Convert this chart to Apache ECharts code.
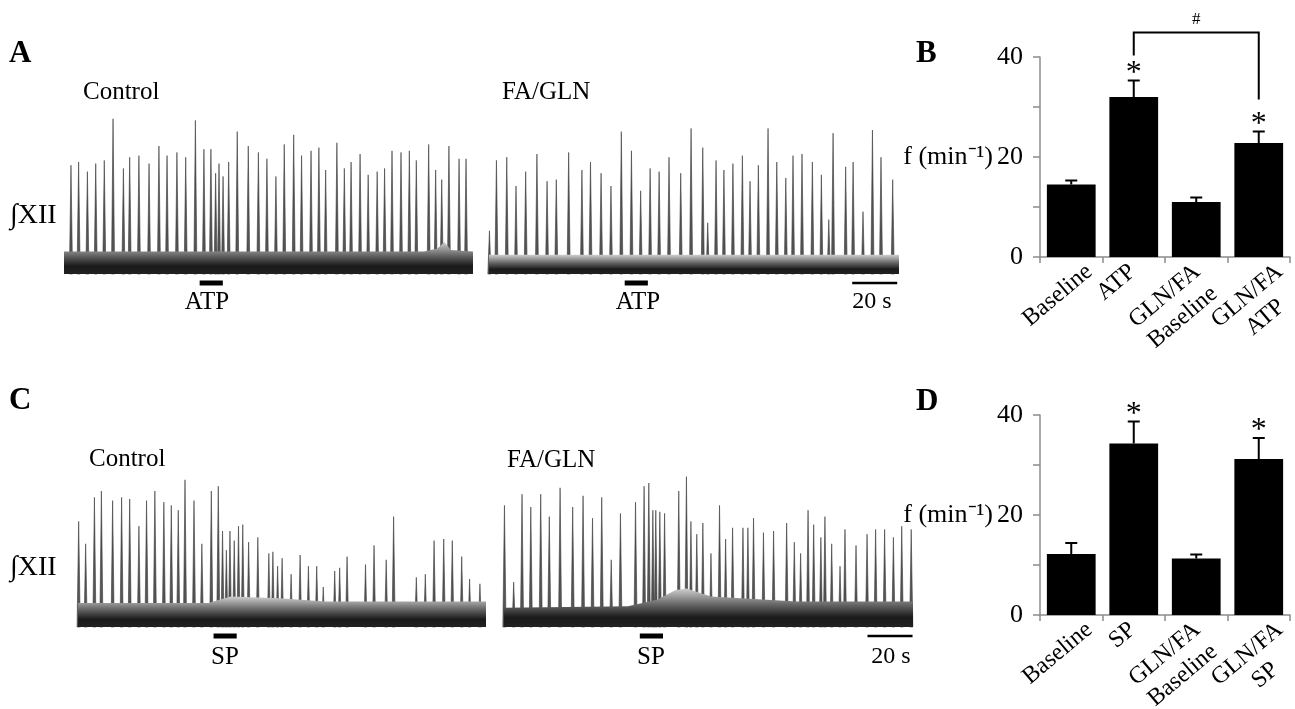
<!DOCTYPE html>
<html>
<head>
<meta charset="UTF-8">
<title>XII activity, ATP and SP</title>
<script src="https://cdn.jsdelivr.net/npm/echarts@6/dist/echarts.min.js"></script>
<style>
html, body { margin: 0; padding: 0; background: #fff; }
#main { width: 1295px; height: 709px; }
</style>
</head>
<body>
<div id="main"></div>
<script>
// ---- traces: [time (s), peak height (a.u.)] ----
var spikesAControl = [[3.1,6.8],[6.5,7.0],[10.4,6.4],[14.1,6.9],[17.9,7.1],[21.8,9.7],[26.4,6.6],[29.2,7.3],[33.3,7.4],[37.8,6.9],
  [42.2,8.0],[45.8,7.4],[50.2,7.6],[54.1,7.3],[58.4,9.6],[62.2,7.8],[65.3,7.8],[67.4,6.3],[68.9,6.9],[70.7,6.1],
  [73.2,7.0],[77.0,8.9],[81.9,8.0],[86.4,7.6],[90.2,7.2],[94.2,6.1],[97.9,8.1],[102.1,8.7],[105.6,7.4],[109.8,7.7],
  [113.3,7.9],[116.3,6.5],[121.3,8.2],[124.6,6.6],[127.6,7.0],[131.6,7.5],[135.2,6.2],[139.2,6.4],[142.5,6.6],[145.8,7.7],
  [149.8,7.6],[153.5,7.7],[156.6,7.1],[162.1,8.1],[165.2,6.5],[167.9,5.9],[171.1,8.0],[175.6,7.2],[178.7,7.2]];
var spikesAFagln = [[0.2,2.7],[3.3,7.1],[7.9,7.3],[12.0,5.5],[16.3,6.4],[21.3,7.5],[25.8,5.8],[29.9,5.9],[35.4,7.6],[41.3,6.5],
  [45.1,7.0],[49.8,6.3],[54.2,5.5],[58.8,8.9],[63.3,7.7],[67.4,5.2],[71.6,6.6],[75.6,6.4],[80.0,7.3],[85.2,6.3],
  [89.8,9.1],[95.0,7.9],[97.2,3.2],[100.9,7.1],[104.4,6.5],[108.4,6.9],[112.6,7.4],[116.0,5.8],[119.7,6.8],[124.0,9.1],
  [127.9,7.0],[131.9,6.0],[135.1,7.4],[139.1,7.5],[143.7,7.0],[147.7,6.2],[151.0,3.4],[152.9,8.8],[158.5,6.7],[161.8,7.0],
  [166.2,3.9],[170.4,9.0],[174.2,7.3],[179.4,5.9]];
var spikesCControl = [[0.3,6.6],[3.4,5.2],[7.3,8.1],[10.4,8.5],[15.4,7.9],[19.4,8.1],[23.0,8.0],[27.1,6.3],[30.5,7.9],[34.2,8.5],
  [38.2,7.8],[41.5,7.6],[44.6,7.3],[47.6,9.2],[51.6,7.9],[55.1,5.2],[59.3,8.5],[62.4,8.8],[64.3,6.0],[66.0,4.8],
  [67.6,6.0],[69.5,5.4],[71.4,6.3],[73.3,6.4],[75.9,5.3],[80.0,5.6],[84.9,4.6],[86.7,4.7],[88.8,3.8],[90.8,4.3],
  [94.8,3.3],[98.8,4.5],[102.5,3.8],[106.2,3.8],[109.1,2.5],[114.2,3.5],[116.4,3.7],[119.7,4.4],[127.9,3.9],[131.7,5.1],
  [137.1,4.2],[140.4,6.9],[150.5,3.1],[154.5,3.3],[158.4,5.4],[162.7,5.5],[166.5,5.4],[170.7,4.4],[174.2,3.0],[178.8,2.7]];
var spikesCFagln = [[0.2,7.6],[4.3,2.8],[8.0,8.3],[11.9,7.5],[16.3,8.3],[20.1,6.9],[24.9,8.7],[30.5,7.5],[35.1,8.2],[39.3,6.8],
  [43.4,8.1],[47.6,4.2],[51.7,7.1],[58.4,7.8],[62.2,8.8],[64.3,9.0],[66.1,7.3],[67.4,7.3],[69.2,7.2],[71.3,7.1],
  [77.6,8.5],[81.0,9.4],[83.0,6.6],[85.6,5.8],[88.3,6.5],[91.9,4.6],[95.7,7.6],[98.4,5.5],[101.5,6.2],[106.1,6.2],
  [108.3,6.2],[110.8,6.8],[115.2,5.9],[119.7,6.0],[125.5,6.5],[128.9,5.3],[131.7,4.6],[135.0,7.3],[137.5,6.4],[140.7,5.6],
  [142.5,6.9],[145.5,5.2],[149.2,3.8],[151.4,6.1],[156.3,5.1],[161.2,5.8],[165.0,6.1],[169.0,6.1],[172.9,5.6],[176.6,6.3],[180.8,6.1]];

// upper edge of the baseline noise band: [time (s), level (a.u.)]
var noiseAControl = [[0,1.4],[160,1.4],[166,1.6],[169,2.0],[172,1.5],[181.8,1.4]];
var noiseAFagln = [[0,1.2],[182.2,1.2]];
var noiseCControl = [[0,1.5],[58,1.5],[68,1.9],[90,1.8],[110,1.6],[181.5,1.6]];
var noiseCFagln = [[0,1.2],[55,1.3],[68,1.7],[76,2.3],[81,2.4],[92,1.9],[130,1.6],[181.6,1.6]];

var traceDuration = [181.8, 182.2, 181.5, 181.6];
var drugWindow = [60.3, 70.6];          // drug application (s)
var scaleBar = [161.4, 181.4];          // 20 s calibration

// ---- summary bars: frequency (min^-1), mean and SEM ----
var catsB = ['Baseline', 'ATP', 'GLN/FA\nBaseline', 'GLN/FA\nATP'];
var meanB = [14.5, 32.0, 11.0, 22.8];
var semB = [0.8, 3.3, 0.9, 2.3];
var starB = ['', '*', '', '*'];
var bracketB = [1, 3, 44.9, 40.3, 31.5];   // from cat, to cat, top, left end, right end

var catsD = ['Baseline', 'SP', 'GLN/FA\nBaseline', 'GLN/FA\nSP'];
var meanD = [12.2, 34.3, 11.3, 31.2];
var semD = [2.2, 4.4, 0.8, 4.2];
var starD = ['', '*', '', '*'];

var yTicks = [0, 20, 40];

var SERIF = '"Liberation Serif", "Times New Roman", serif';
var myChart = echarts.init(document.getElementById('main'), null, { renderer: 'canvas' });

// grid boxes (pixels)
var grids = [
  { left: 64, top: 114, width: 409, height: 160 },
  { left: 489, top: 114, width: 410, height: 160 },
  { left: 78, top: 467, width: 408, height: 160 },
  { left: 504, top: 467, width: 409, height: 160 },
  { left: 1040, top: 57, width: 250, height: 200 },
  { left: 1040, top: 415, width: 250, height: 200 }
];

function spikeItem(params, api) {
  var t = api.value(0), h = api.value(1);
  var b = api.coord([t, 0]), p = api.coord([t, h]);
  return {
    type: 'polygon',
    shape: { points: [[b[0] - 1.6, b[1]], p, [b[0] + 1.6, b[1]]] },
    style: { fill: '#555', stroke: '#3a3a3a', lineWidth: 0.6 }
  };
}

function hBar(offset, width) {
  return function (params, api) {
    var a = api.coord([api.value(0), 0]), b = api.coord([api.value(1), 0]);
    return {
      type: 'line',
      shape: { x1: a[0], y1: a[1] + offset, x2: b[0], y2: b[1] + offset },
      style: { stroke: '#000', lineWidth: width }
    };
  };
}

function errItem(stars) {
  return function (params, api) {
    var i = api.value(0), m = api.value(1), e = api.value(2);
    var a = api.coord([i, m]), b = api.coord([i, m + e]);
    var kids = [
      { type: 'line', shape: { x1: a[0], y1: a[1], x2: b[0], y2: b[1] }, style: { stroke: '#000', lineWidth: 2 } },
      { type: 'line', shape: { x1: b[0] - 6, y1: b[1], x2: b[0] + 6, y2: b[1] }, style: { stroke: '#000', lineWidth: 2 } }
    ];
    if (stars[params.dataIndex]) {
      kids.push({ type: 'text', x: b[0], y: b[1] + 9,
        style: { text: stars[params.dataIndex], font: '32px ' + SERIF, fill: '#000', align: 'center', verticalAlign: 'bottom' } });
    }
    return { type: 'group', children: kids };
  };
}

function bracketItem(params, api) {
  var l0 = api.coord([api.value(0), api.value(3)]);
  var l1 = api.coord([api.value(0), api.value(2)]);
  var r1 = api.coord([api.value(1), api.value(2)]);
  var r0 = api.coord([api.value(1), api.value(4)]);
  return {
    type: 'group',
    children: [
      { type: 'polyline', shape: { points: [l0, l1, r1, r0] }, style: { stroke: '#000', lineWidth: 2, fill: null } },
      { type: 'text', x: (l1[0] + r1[0]) / 2, y: l1[1] - 4,
        style: { text: '#', font: '17px ' + SERIF, fill: '#000', align: 'center', verticalAlign: 'bottom' } }
    ]
  };
}

// rotated category labels, lines centred in their block, block top-right near the tick
// (the original staggers them a little so the two-line labels do not collide)
var measureCtx = document.createElement('canvas').getContext('2d');
var LABEL_FONT = '24px ' + SERIF;
var labelShift = [9, -10, -8, 12];
function catLabelItem(cats) {
  return function (params, api) {
    var p = api.coord([api.value(0), 0]);
    var lines = cats[params.dataIndex].split('\n');
    measureCtx.font = LABEL_FONT;
    var w = 0;
    lines.forEach(function (s) { w = Math.max(w, measureCtx.measureText(s).width); });
    var th = 40 * Math.PI / 180, lh = 28;
    var ux = Math.cos(th), uy = -Math.sin(th), dx = Math.sin(th), dy = Math.cos(th);
    var ax = p[0] + labelShift[params.dataIndex], ay = p[1] + 1;
    return {
      type: 'group',
      children: lines.map(function (s, k) {
        return {
          type: 'text',
          x: ax - w / 2 * ux + (k + 0.5) * lh * dx,
          y: ay - w / 2 * uy + (k + 0.5) * lh * dy,
          rotation: th,
          style: { text: s, font: LABEL_FONT, fill: '#000', align: 'center', verticalAlign: 'middle' }
        };
      })
    };
  };
}

var xAxes = [], yAxes = [], series = [];
var traces = [spikesAControl, spikesAFagln, spikesCControl, spikesCFagln];
var noises = [noiseAControl, noiseAFagln, noiseCControl, noiseCFagln];

traces.forEach(function (sp, k) {
  xAxes.push({ gridIndex: k, type: 'value', min: 0, max: traceDuration[k], show: false });
  yAxes.push({ gridIndex: k, type: 'value', min: 0, max: 10, show: false });
  series.push({
    type: 'line', xAxisIndex: k, yAxisIndex: k, data: noises[k], showSymbol: false, silent: true,
    lineStyle: { width: 0 },
    areaStyle: {
      opacity: 1,
      color: new echarts.graphic.LinearGradient(0, 0, 0, 1, [
        { offset: 0, color: '#cfcfcf' },
        { offset: 0.4, color: '#6a6a6a' },
        { offset: 0.75, color: '#1a1a1a' },
        { offset: 1, color: '#222' }
      ])
    }
  });
  series.push({ type: 'custom', xAxisIndex: k, yAxisIndex: k, data: sp, renderItem: spikeItem, silent: true });
  series.push({ type: 'custom', xAxisIndex: k, yAxisIndex: k, data: [drugWindow], renderItem: hBar(9, 5), silent: true });
  if (k === 1 || k === 3) {
    series.push({ type: 'custom', xAxisIndex: k, yAxisIndex: k, data: [scaleBar], renderItem: hBar(9, 2.5), silent: true });
  }
});

[[catsB, meanB, semB, starB], [catsD, meanD, semD, starD]].forEach(function (set, j) {
  var g = 4 + j;
  xAxes.push({
    gridIndex: g, type: 'category', data: set[0],
    axisLine: { lineStyle: { color: '#8c8c8c', width: 1.5 } },
    axisTick: { show: true, length: 6, lineStyle: { color: '#8c8c8c', width: 1.5 } },
    axisLabel: { show: false }
  });
  yAxes.push({
    gridIndex: g, type: 'value', min: 0, max: 40, interval: 10,
    splitLine: { show: false },
    axisLine: { show: true, lineStyle: { color: '#8c8c8c', width: 1.5 } },
    axisTick: { show: true, length: 7, lineStyle: { color: '#8c8c8c', width: 1.5 } },
    axisLabel: {
      margin: 17, color: '#000', fontSize: 26, fontFamily: SERIF,
      formatter: function (v) { return yTicks.indexOf(v) >= 0 ? String(v) : ''; }
    }
  });
  series.push({
    type: 'bar', xAxisIndex: g, yAxisIndex: g, data: set[1], barWidth: '78%',
    itemStyle: { color: '#000' }, silent: true
  });
  series.push({
    type: 'custom', xAxisIndex: g, yAxisIndex: g, silent: true, z: 3,
    data: set[1].map(function (m, i) { return [i, m, set[2][i]]; }),
    renderItem: errItem(set[3])
  });
  series.push({
    type: 'custom', xAxisIndex: g, yAxisIndex: g, silent: true,
    data: set[0].map(function (c, i) { return [i]; }),
    renderItem: catLabelItem(set[0])
  });
});

series.push({ type: 'custom', xAxisIndex: 4, yAxisIndex: 4, data: [bracketB], renderItem: bracketItem, silent: true, z: 3 });

function txt(s, x, y, size, opts) {
  opts = opts || {};
  return {
    type: 'text', x: x, y: y, silent: true,
    style: {
      text: s, fill: '#000',
      font: (opts.bold ? 'bold ' : '') + size + 'px ' + SERIF,
      align: opts.align || 'left', verticalAlign: 'middle'
    }
  };
}

var option = {
  animation: false,
  backgroundColor: '#fff',
  grid: grids,
  xAxis: xAxes,
  yAxis: yAxes,
  series: series,
  graphic: [
    txt('A', 9, 54, 31, { bold: true }),
    txt('Control', 83, 92, 25),
    txt('FA/GLN', 502, 92, 25),
    txt('\u222BXII', 10, 216, 28),
    txt('ATP', 207, 302, 25, { align: 'center' }),
    txt('ATP', 638, 302, 25, { align: 'center' }),
    txt('20 s', 872, 302, 24, { align: 'center' }),
    txt('B', 916, 54, 31, { bold: true }),
    txt('f (min\u207B\u00B9)', 993, 157, 26, { align: 'right' }),
    txt('C', 9, 401, 31, { bold: true }),
    txt('Control', 89, 459, 25),
    txt('FA/GLN', 507, 460, 25),
    txt('\u222BXII', 10, 568, 28),
    txt('SP', 225, 657, 25, { align: 'center' }),
    txt('SP', 651, 657, 25, { align: 'center' }),
    txt('20 s', 891, 657, 24, { align: 'center' }),
    txt('D', 916, 402, 31, { bold: true }),
    txt('f (min\u207B\u00B9)', 993, 515, 26, { align: 'right' })
  ]
};

myChart.setOption(option);
</script>
</body>
</html>
